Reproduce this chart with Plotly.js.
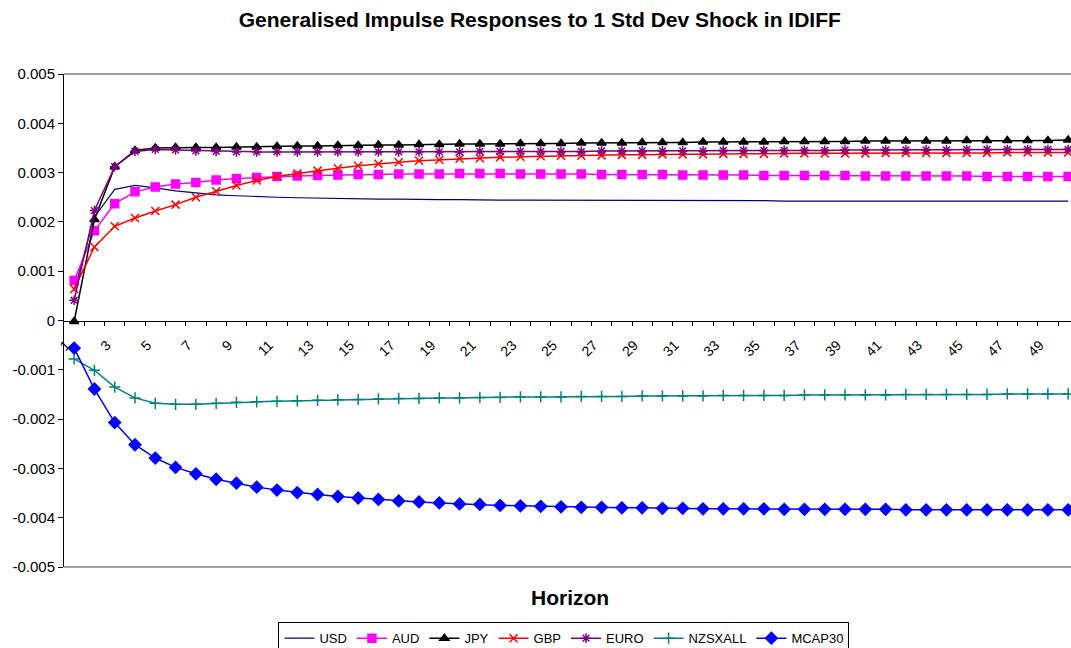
<!DOCTYPE html>
<html>
<head>
<meta charset="utf-8">
<script src="https://cdn.plot.ly/plotly-3.0.1.min.js"></script>
<style>html,body{margin:0;padding:0;background:#fff;}#chart{width:1071px;height:648px;}</style>
</head>
<body>
<div id="chart"></div>
<script>
const horizon = Array.from({length: 50}, (_, i) => i + 1);
const tickLabels = ["1","3","5","7","9","11","13","15","17","19","21","23","25","27","29","31","33","35","37","39","41","43","45","47","49"];
const tickLabelPositions = [1,3,5,7,9,11,13,15,17,19,21,23,25,27,29,31,33,35,37,39,41,43,45,47,49];
const yTickVals = [0.005,0.004,0.003,0.002,0.001,0,-0.001,-0.002,-0.003,-0.004,-0.005];
const yTickText = ["0.005","0.004","0.003","0.002","0.001","0","-0.001","-0.002","-0.003","-0.004","-0.005"];

const USD = [0.00060,0.00210,0.00266,0.00274,0.00269,0.00263,0.00259,0.00255,0.00253,0.00251,
  0.00250,0.00249,0.00248,0.00247,0.00247,0.00246,0.00246,0.00245,0.00245,0.00245,
  0.00244,0.00244,0.00244,0.00244,0.00243,0.00243,0.00243,0.00243,0.00243,0.00243,
  0.00243,0.00243,0.00243,0.00243,0.00243,0.00242,0.00242,0.00242,0.00242,0.00242,
  0.00242,0.00242,0.00242,0.00242,0.00242,0.00242,0.00242,0.00242,0.00242,0.00242];
const AUD = [0.00081,0.00182,0.00237,0.00261,0.00271,0.00277,0.00280,0.00285,0.00288,0.00290,
  0.00292,0.00293,0.00294,0.00295,0.00296,0.00296,0.00297,0.00297,0.00297,0.00298,
  0.00298,0.00298,0.00297,0.00297,0.00297,0.00297,0.00296,0.00296,0.00296,0.00296,
  0.00295,0.00295,0.00295,0.00295,0.00294,0.00294,0.00294,0.00294,0.00294,0.00293,
  0.00293,0.00293,0.00293,0.00293,0.00293,0.00292,0.00292,0.00292,0.00292,0.00292];
const JPY = [-0.00002,0.00205,0.00312,0.00345,0.00350,0.00351,0.00351,0.00351,0.00352,0.00352,
  0.00353,0.00354,0.00354,0.00355,0.00355,0.00356,0.00356,0.00357,0.00357,0.00358,
  0.00358,0.00358,0.00359,0.00359,0.00359,0.00360,0.00360,0.00360,0.00361,0.00361,
  0.00361,0.00362,0.00362,0.00362,0.00362,0.00363,0.00363,0.00363,0.00363,0.00364,
  0.00364,0.00364,0.00364,0.00364,0.00365,0.00365,0.00365,0.00365,0.00365,0.00366];
const GBP = [0.00064,0.00149,0.00191,0.00208,0.00222,0.00235,0.00250,0.00262,0.00274,0.00284,
  0.00292,0.00298,0.00304,0.00309,0.00314,0.00318,0.00321,0.00324,0.00326,0.00328,
  0.00329,0.00331,0.00332,0.00333,0.00334,0.00334,0.00335,0.00336,0.00336,0.00337,
  0.00337,0.00337,0.00338,0.00338,0.00338,0.00339,0.00339,0.00339,0.00339,0.00339,
  0.00340,0.00340,0.00340,0.00340,0.00340,0.00340,0.00341,0.00341,0.00341,0.00341];
const EURO = [0.00041,0.00223,0.00312,0.00343,0.00347,0.00346,0.00344,0.00343,0.00342,0.00342,
  0.00342,0.00342,0.00342,0.00342,0.00342,0.00342,0.00342,0.00342,0.00342,0.00342,
  0.00343,0.00343,0.00343,0.00343,0.00343,0.00343,0.00344,0.00344,0.00344,0.00344,
  0.00344,0.00344,0.00345,0.00345,0.00345,0.00345,0.00345,0.00345,0.00346,0.00346,
  0.00346,0.00346,0.00346,0.00346,0.00347,0.00347,0.00347,0.00347,0.00347,0.00347];
const NZSXALL = [-0.00078,-0.00101,-0.00135,-0.00157,-0.00168,-0.00170,-0.00170,-0.00168,-0.00166,-0.00165,
  -0.00164,-0.00163,-0.00162,-0.00161,-0.00160,-0.00159,-0.00158,-0.00158,-0.00157,-0.00157,
  -0.00156,-0.00156,-0.00155,-0.00155,-0.00155,-0.00154,-0.00154,-0.00154,-0.00153,-0.00153,
  -0.00153,-0.00153,-0.00152,-0.00152,-0.00152,-0.00152,-0.00151,-0.00151,-0.00151,-0.00151,
  -0.00151,-0.00150,-0.00150,-0.00150,-0.00150,-0.00150,-0.00149,-0.00149,-0.00149,-0.00149];
const MCAP30 = [-0.00056,-0.00139,-0.00207,-0.00252,-0.00279,-0.00298,-0.00311,-0.00322,-0.00330,-0.00338,
  -0.00344,-0.00349,-0.00353,-0.00357,-0.00360,-0.00363,-0.00366,-0.00368,-0.00370,-0.00372,
  -0.00373,-0.00375,-0.00376,-0.00377,-0.00378,-0.00379,-0.00379,-0.00380,-0.00380,-0.00381,
  -0.00381,-0.00382,-0.00382,-0.00382,-0.00382,-0.00383,-0.00383,-0.00383,-0.00383,-0.00383,
  -0.00383,-0.00384,-0.00384,-0.00384,-0.00384,-0.00384,-0.00384,-0.00384,-0.00384,-0.00384];

const boundaries = horizon.map(h => h + 0.5).slice(0, 49);
const FONT = "Liberation Sans, Arial, sans-serif";

function series(name, y, color, marker, width) {
  const t = {
    x: horizon, y: y, name: name, type: 'scatter',
    mode: marker ? 'lines+markers' : 'lines',
    line: {color: color, width: width || 1.5}
  };
  if (marker) t.marker = Object.assign({color: color, line: {color: color, width: 1.5}}, marker);
  return t;
}

const traces = [
  series('USD', USD, '#000080', null, 1.2),
  series('AUD', AUD, '#FF00FF', {symbol: 'square', size: 8}),
  series('JPY', JPY, '#000000', {symbol: 'triangle-up', size: 8}),
  series('GBP', GBP, '#FF0000', {symbol: 'x-thin-open', size: 8}),
  series('EURO', EURO, '#800080', {symbol: 'asterisk-open', size: 8}),
  series('NZSXALL', NZSXALL, '#008080', {symbol: 'cross-thin-open', size: 8}),
  series('MCAP30', MCAP30, '#0000FF', {symbol: 'diamond', size: 9})
];

const layout = {
  width: 1071, height: 648,
  paper_bgcolor: '#ffffff', plot_bgcolor: '#ffffff',
  margin: {l: 64, r: 0, t: 74, b: 81, pad: 0, autoexpand: false},
  font: {family: FONT, color: '#000000', size: 13},
  showlegend: true,
  title: {
    text: '<b>Generalised Impulse Responses to 1 Std Dev Shock in IDIFF</b>',
    font: {family: FONT, size: 21, color: '#000000'},
    xref: 'container', x: 0.504, xanchor: 'center',
    yref: 'container', y: 0.969, yanchor: 'middle'
  },
  xaxis: {
    range: [0.5, 50.14],
    anchor: 'free', position: 0.5,
    showline: true, linecolor: '#000000', linewidth: 1,
    showgrid: false, zeroline: false,
    tickmode: 'array', tickvals: tickLabelPositions, ticktext: tickLabels,
    ticks: '', tickangle: -45,
    ticklabelshift: -8, ticklabelstandoff: 10,
    tickfont: {family: FONT, size: 14, color: '#000000'},
    minor: {tickmode: 'array', tickvals: boundaries, ticks: 'outside', ticklen: 4, tickcolor: '#000000', tickwidth: 1, showgrid: false},
    fixedrange: true
  },
  yaxis: {
    range: [-0.005, 0.005],
    showline: true, linecolor: '#000000', linewidth: 1,
    showgrid: false, zeroline: false,
    tickmode: 'array', tickvals: yTickVals, ticktext: yTickText,
    ticks: 'outside', ticklen: 5, tickcolor: '#000000',
    tickfont: {family: FONT, size: 15, color: '#000000'},
    fixedrange: true
  },
  shapes: [
    {type: 'line', xref: 'paper', yref: 'paper', x0: 0, x1: 1, y0: 1, y1: 1, line: {color: '#808080', width: 1.5}, layer: 'below'},
    {type: 'line', xref: 'paper', yref: 'paper', x0: 0, x1: 1, y0: 0, y1: 0, line: {color: '#808080', width: 1.5}, layer: 'below'}
  ],
  annotations: [
    {text: '<b>Horizon</b>', xref: 'paper', yref: 'paper', x: 0.5025, y: -0.061,
     xanchor: 'center', yanchor: 'middle', showarrow: false,
     font: {family: FONT, size: 21, color: '#000000'}}
  ],
  legend: {
    orientation: 'h', xref: 'paper', yref: 'paper',
    x: 0.4965, xanchor: 'center', y: -0.112, yanchor: 'top',
    bgcolor: '#ffffff', bordercolor: '#000000', borderwidth: 1,
    font: {family: FONT, size: 13, color: '#000000'},
    itemwidth: 30, tracegroupgap: 0
  }
};

Plotly.newPlot('chart', traces, layout, {displayModeBar: false, staticPlot: true});
</script>
</body>
</html>
